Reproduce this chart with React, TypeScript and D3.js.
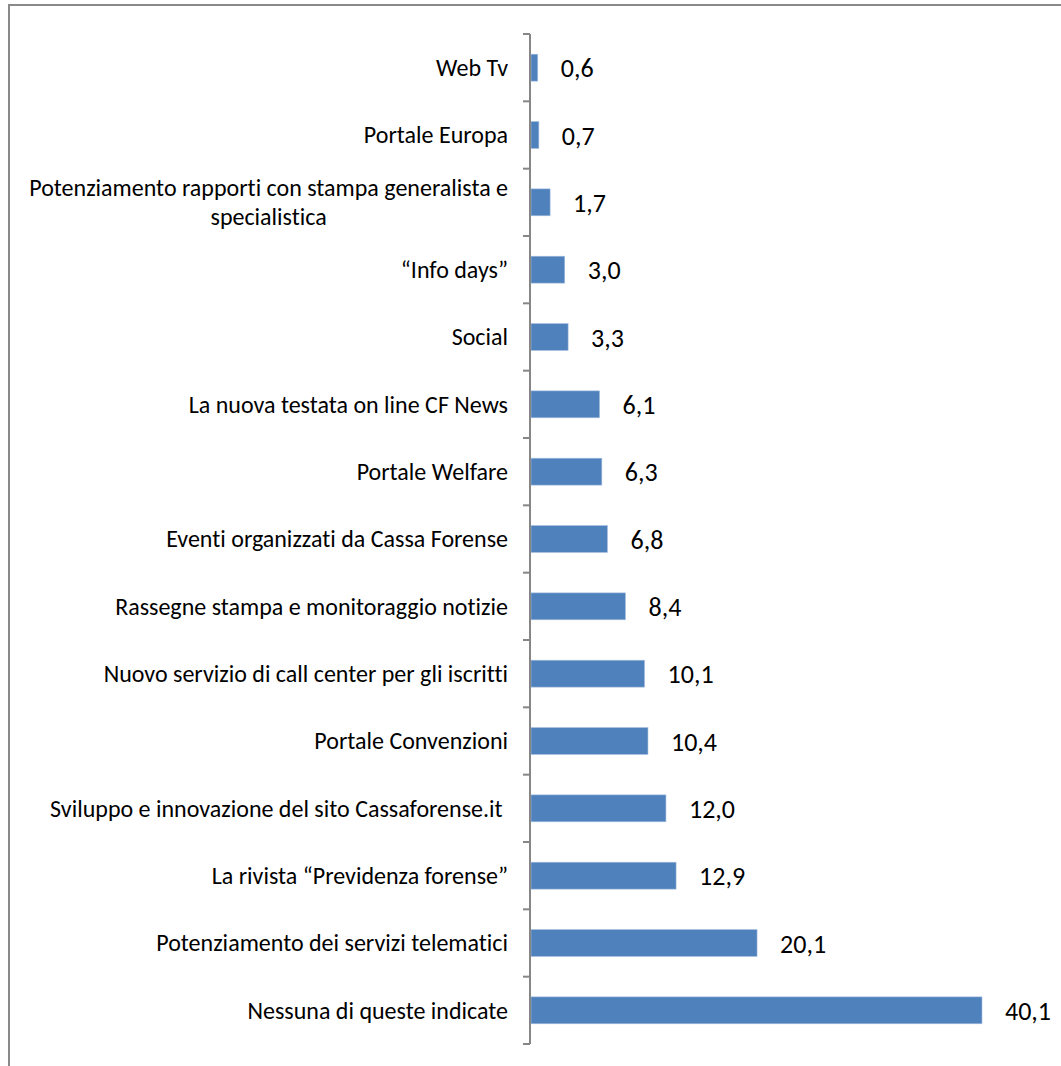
import { useEffect, useRef } from 'react';
import * as d3 from 'd3';

// Categories, top to bottom as shown
const categories = [
  'Web Tv',
  'Portale Europa',
  'Potenziamento rapporti con stampa generalista e\nspecialistica',
  '“Info days”',
  'Social',
  'La nuova testata on line CF News',
  'Portale Welfare',
  'Eventi organizzati da Cassa Forense',
  'Rassegne stampa e monitoraggio notizie',
  'Nuovo servizio di call center per gli iscritti',
  'Portale Convenzioni',
  'Sviluppo e innovazione del sito Cassaforense.it ',
  'La rivista “Previdenza forense”',
  'Potenziamento dei servizi telematici',
  'Nessuna di queste indicate',
];

const values = [0.6, 0.7, 1.7, 3.0, 3.3, 6.1, 6.3, 6.8, 8.4, 10.1, 10.4, 12.0, 12.9, 20.1, 40.1];

const itLocale = d3.formatLocale({
  decimal: ',',
  thousands: '.',
  grouping: [3],
  currency: ['', ' €'],
});
const fmt = itLocale.format('.1f');

const App = () => {
  const chartRef = useRef<SVGSVGElement>(null);

  useEffect(() => {
    if (!chartRef.current) return;

    d3.select(chartRef.current).selectAll('*').remove();

    const width = 1061;
    const height = 1066;
    const axisX = 531;
    const top = 34;
    const bottom = 1044;
    const fontFamily = "Carlito, Calibri, 'Open Sans', sans-serif";
    const fontSize = 24;

    const svg = d3.select(chartRef.current).attr('width', width).attr('height', height);

    svg
      .append('rect')
      .attr('width', width)
      .attr('height', height)
      .attr('fill', '#ffffff');

    // Outer chart border (runs off the right/bottom edge)
    svg
      .append('rect')
      .attr('x', 9)
      .attr('y', 5)
      .attr('width', width + 20)
      .attr('height', height + 20)
      .attr('fill', 'none')
      .attr('stroke', '#898989')
      .attr('stroke-width', 2);

    const y = d3
      .scaleBand<number>()
      .domain(d3.range(categories.length))
      .range([top, bottom])
      .paddingInner(0.6)
      .paddingOuter(0.3);

    const x = d3
      .scaleLinear()
      .domain([0, d3.max(values) as number])
      .range([axisX, 982]);

    const step = (bottom - top) / categories.length;

    // Bars
    svg
      .append('g')
      .selectAll('rect')
      .data(values)
      .join('rect')
      .attr('x', x(0))
      .attr('y', (_, i) => y(i) as number)
      .attr('width', (d) => x(d) - x(0))
      .attr('height', y.bandwidth())
      .attr('fill', '#4F81BD')
      .attr('stroke', '#A9C0DF')
      .attr('stroke-width', 0.6);

    // Axis line + ticks
    const axis = svg.append('g').attr('stroke', '#868686').attr('stroke-width', 2);
    axis
      .append('line')
      .attr('x1', axisX - 1)
      .attr('x2', axisX - 1)
      .attr('y1', top)
      .attr('y2', bottom);
    axis
      .selectAll('line.tick')
      .data(d3.range(categories.length + 1))
      .join('line')
      .attr('class', 'tick')
      .attr('x1', axisX - 8)
      .attr('x2', axisX - 1)
      .attr('y1', (i) => top + i * step)
      .attr('y2', (i) => top + i * step);

    // Category labels
    const labels = svg
      .append('g')
      .attr('font-family', fontFamily)
      .attr('font-size', fontSize)
      .style('font-variant-ligatures', 'none')
      .attr('fill', '#000000');

    categories.forEach((c, i) => {
      const lines = c.split('\n');
      const cy = (y(i) as number) + y.bandwidth() / 2;
      const lh = 29;
      const t = labels
        .append('text')
        .attr('text-anchor', lines.length > 1 ? 'middle' : 'end')
        .style('white-space', 'pre');
      lines.forEach((l, j) => {
        t.append('tspan')
          .attr('x', 508)
          .attr('y', cy + (j - (lines.length - 1) / 2) * lh)
          .attr('dy', '0.35em')
          .text(l);
      });
      if (lines.length > 1) {
        const node = t.node() as SVGTextElement;
        const w = d3.max(
          Array.from(node.querySelectorAll('tspan')),
          (s) => (s as SVGTextContentElement).getComputedTextLength()
        ) as number;
        t.selectAll('tspan').attr('x', 508 - w / 2);
      }
    });

    // Value labels
    svg
      .append('g')
      .attr('font-family', fontFamily)
      .attr('font-size', 26)
      .attr('fill', '#000000')
      .selectAll('text')
      .data(values)
      .join('text')
      .attr('x', (d) => x(d) + 23)
      .attr('y', (_, i) => (y(i) as number) + y.bandwidth() / 2)
      .attr('dy', '0.37em')
      .text((d) => fmt(d));
  }, []);

  return (
    <div style={{ position: 'absolute', left: 0, top: 0 }}>
      <svg ref={chartRef} style={{ display: 'block' }} />
    </div>
  );
};

export default App;
